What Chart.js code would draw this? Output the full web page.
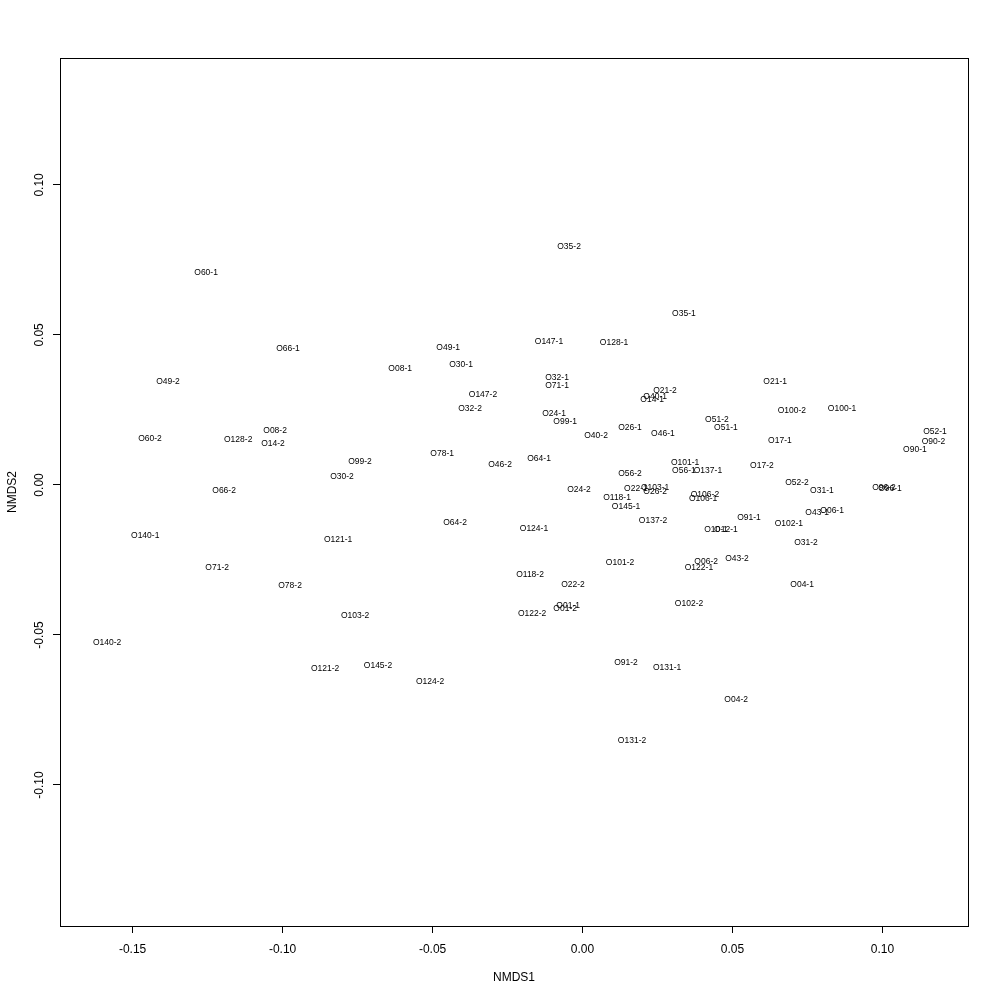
<!DOCTYPE html>
<html><head><meta charset="utf-8">
<script src="https://cdn.jsdelivr.net/npm/chart.js@4"></script>
<style>html,body{margin:0;padding:0;background:#fff}#wrap{width:1000px;height:1000px}</style>
</head><body><div id="wrap"><canvas id="c" width="1000" height="1000"></canvas></div>
<script>
const sampleLabels = ["O35-2","O60-1","O35-1","O66-1","O147-1","O128-1","O49-1","O08-1","O30-1","O49-2",
"O21-1","O32-1","O71-1","O21-2","O147-2","O40-1","O14-1","O32-2","O100-2","O100-1",
"O24-1","O51-2","O99-1","O51-1","O26-1","O08-2","O52-1","O46-1","O40-2","O60-2",
"O128-2","O17-1","O90-2","O14-2","O90-1","O78-1","O64-1","O99-2","O101-1","O46-2",
"O17-2","O56-1","O137-1","O56-2","O30-2","O52-2","O22-1","O103-1","O26-2","O24-2",
"O96-2","O96-1","O31-1","O66-2","O106-2","O106-1","O118-1","O145-1","O43-1","O06-1",
"O137-2","O91-1","O64-2","O102-1","O124-1","O10-1","O12-1","O140-1","O121-1","O31-2",
"O43-2","O06-2","O101-2","O122-1","O71-2","O118-2","O22-2","O04-1","O78-2","O102-2",
"O01-1","O01-2","O122-2","O103-2","O140-2","O91-2","O131-1","O145-2","O121-2","O124-2",
"O04-2","O131-2"];
const nmds1 = [-0.0045,-0.1255,0.0338,-0.0982,-0.0112,0.0105,-0.0448,-0.0608,-0.0405,-0.1382,
0.0642,-0.0085,-0.0085,0.0275,-0.0332,0.0242,0.0232,-0.0375,0.0698,0.0865,
-0.0095,0.0448,-0.0058,0.0478,0.0158,-0.1025,0.1175,0.0268,0.0045,-0.1442,
-0.1148,0.0658,0.1170,-0.1032,0.1108,-0.0468,-0.0145,-0.0742,0.0342,-0.0275,
0.0598,0.0338,0.0418,0.0158,-0.0802,0.0715,0.0178,0.0242,0.0242,-0.0012,
0.1005,0.1025,0.0798,-0.1195,0.0408,0.0402,0.0115,0.0145,0.0782,0.0832,
0.0235,0.0555,-0.0425,0.0688,-0.0162,0.0445,0.0478,-0.1458,-0.0815,0.0745,
0.0515,0.0412,0.0125,0.0388,-0.1218,-0.0175,-0.0032,0.0732,-0.0975,0.0355,
-0.0048,-0.0058,-0.0168,-0.0758,-0.1585,0.0145,0.0282,-0.0682,-0.0858,-0.0508,
0.0512,0.0165];
const nmds2 = [0.0794,0.0707,0.0570,0.0454,0.0477,0.0474,0.0457,0.0387,0.0400,0.0344,
0.0344,0.0357,0.0330,0.0314,0.0300,0.0294,0.0284,0.0254,0.0247,0.0254,
0.0237,0.0217,0.0210,0.0190,0.0190,0.0180,0.0177,0.0170,0.0164,0.0154,
0.0150,0.0147,0.0144,0.0137,0.0117,0.0104,0.0087,0.0077,0.0074,0.0067,
0.0064,0.0047,0.0047,0.0037,0.0027,0.0007,-0.0013,-0.0010,-0.0023,-0.0016,
-0.0010,-0.0013,-0.0020,-0.0020,-0.0033,-0.0046,-0.0043,-0.0073,-0.0093,-0.0086,
-0.0120,-0.0110,-0.0126,-0.0130,-0.0146,-0.0150,-0.0150,-0.0170,-0.0183,-0.0193,
-0.0246,-0.0256,-0.0260,-0.0276,-0.0276,-0.0300,-0.0333,-0.0333,-0.0336,-0.0396,
-0.0403,-0.0413,-0.0430,-0.0436,-0.0526,-0.0593,-0.0610,-0.0603,-0.0613,-0.0656,
-0.0716,-0.0853];
const xTicks = [-0.15,-0.10,-0.05,0.00,0.05,0.10];
const yTicks = [-0.10,-0.05,0.00,0.05,0.10];
const xRange = [-0.1742, 0.1285];
const yRange = [-0.1470, 0.1423];
const xTitle = "NMDS1";
const yTitle = "NMDS2";

const FONT = "'Liberation Sans', Arial, Helvetica, sans-serif";
const fmt = v => (Math.abs(v) < 1e-9 ? 0 : v).toFixed(2);

const rPlot = {
  id: 'rPlot',
  afterDraw(chart) {
    const ctx = chart.ctx;
    const a = chart.chartArea;
    ctx.save();
    ctx.strokeStyle = '#000';
    ctx.lineWidth = 1;
    ctx.strokeRect(Math.round(a.left) + 0.5, Math.round(a.top) + 0.5,
                   Math.round(a.right - a.left), Math.round(a.bottom - a.top));
    // y tick labels rotated (R style)
    const ys = chart.scales.y;
    ctx.fillStyle = '#000';
    ctx.font = '12px ' + FONT;
    ctx.textAlign = 'center';
    ctx.textBaseline = 'middle';
    yTicks.forEach(v => {
      const py = ys.getPixelForValue(v);
      ctx.save();
      ctx.translate(40, py);
      ctx.rotate(-Math.PI / 2);
      ctx.fillText(fmt(v), 0, 0);
      ctx.restore();
    });
    // point labels, centred on each point
    const meta = chart.getDatasetMeta(0);
    ctx.font = '8.5px ' + FONT;
    meta.data.forEach((pt, i) => {
      ctx.fillText(sampleLabels[i], pt.x, pt.y);
    });
    ctx.restore();
  }
};

new Chart(document.getElementById('c'), {
  type: 'scatter',
  data: {
    datasets: [{
      data: nmds1.map((x, i) => ({x: x, y: nmds2[i]})),
      pointRadius: 0,
      pointHoverRadius: 0,
      backgroundColor: 'rgba(0,0,0,0)',
      borderColor: 'rgba(0,0,0,0)'
    }]
  },
  options: {
    responsive: false,
    devicePixelRatio: 1,
    animation: false,
    events: [],
    layout: {padding: {top: 58, right: 32, left: 0, bottom: 0}},
    plugins: {legend: {display: false}, tooltip: {enabled: false}},
    scales: {
      x: {
        type: 'linear', min: xRange[0], max: xRange[1],
        afterFit: s => { s.height = 74; },
        afterBuildTicks: s => { s.ticks = xTicks.map(v => ({value: v})); },
        grid: {display: true, drawOnChartArea: false, drawTicks: true, tickLength: 7, color: '#000', lineWidth: 1},
        border: {display: false},
        ticks: {autoSkip: false, maxRotation: 0, color: '#000', padding: 9, font: {family: FONT, size: 12}, callback: v => fmt(v)},
        title: {display: true, text: xTitle, color: '#000', font: {family: FONT, size: 12}, padding: {top: 0, bottom: 15}}
      },
      y: {
        type: 'linear', min: yRange[0], max: yRange[1],
        afterFit: s => { s.width = 60; },
        afterBuildTicks: s => { s.ticks = yTicks.map(v => ({value: v})); },
        grid: {display: true, drawOnChartArea: false, drawTicks: true, tickLength: 7, color: '#000', lineWidth: 1},
        border: {display: false},
        ticks: {display: false},
        title: {display: true, text: yTitle, color: '#000', font: {family: FONT, size: 12}, padding: {top: 5, bottom: 0}}
      }
    }
  },
  plugins: [rPlot]
});
</script>
</body></html>
